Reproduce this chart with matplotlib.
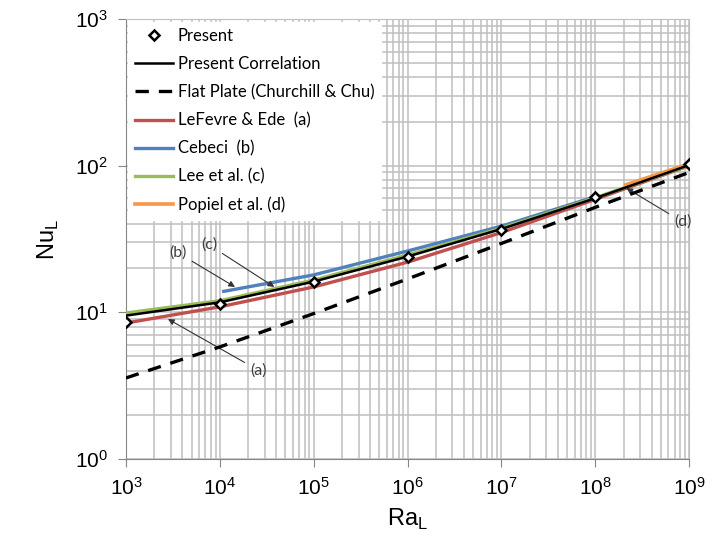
import matplotlib.pyplot as plt
import numpy as np
from matplotlib.ticker import FixedLocator, LogLocator, NullFormatter

# values
ra_present = [1e3, 1e4, 1e5, 1e6, 1e7, 1e8, 1e9]
nu_present = [8.6, 11.4, 16.1, 23.8, 36.4, 61.0, 102.6]

ra_dec = [1e3, 1e4, 1e5, 1e6, 1e7, 1e8, 1e9]
nu_corr = [9.5, 11.7, 16.2, 24.0, 37.0, 60.0, 101.0]
nu_flat = [3.57, 5.81, 9.81, 16.9, 29.5, 52.0, 90.0]
nu_lefevre = [8.45, 10.9, 14.9, 22.0, 35.0, 59.0, 100.0]
nu_lee = [9.9, 12.0, 16.6, 24.6, 37.5, 60.5, 100.5]

ra_cebeci = [1.1e4, 1e5, 1e6, 1e7, 1e8]
nu_cebeci = [13.9, 18.0, 26.2, 38.7, 61.5]

ra_popiel = [2.1e8, 1e9]
nu_popiel = [74.0, 103.0]

x_ticks = [1e3, 1e4, 1e5, 1e6, 1e7, 1e8, 1e9]
y_ticks = [1, 10, 100, 1000]

RED = "#C0504D"
BLUE = "#4F81BD"
GREEN = "#9BBB59"
ORANGE = "#F79646"

fig = plt.figure(figsize=(7.24, 5.43), dpi=100)
ax = fig.add_axes((0.174, 0.1547, 0.778, 0.8103))
ax.set_xscale("log")
ax.set_yscale("log")

ax.plot(ra_dec, nu_lefevre, color=RED, lw=2.4, label="LeFevre & Ede  (a)", zorder=3)
ax.plot(ra_cebeci, nu_cebeci, color=BLUE, lw=2.4, label="Cebeci  (b)", zorder=3)
ax.plot(ra_dec, nu_lee, color=GREEN, lw=2.4, label="Lee et al. (c)", zorder=3)
ax.plot(ra_popiel, nu_popiel, color=ORANGE, lw=2.6, label="Popiel et al. (d)", zorder=4)
ax.plot(ra_dec, nu_corr, color="black", lw=1.8, label="Present Correlation", zorder=5)
ax.plot(ra_dec, nu_flat, color="black", lw=2.4, ls=(0, (4, 3)),
        label="Flat Plate (Churchill & Chu)", zorder=5)
ax.plot(ra_present, nu_present, ls="none", marker="D", ms=5.5, mfc="white",
        mec="black", mew=1.8, label="Present", zorder=6)

ax.set_xlim(1e3, 1e9)
ax.set_ylim(1, 1e3)

ax.xaxis.set_major_locator(FixedLocator(x_ticks))
ax.yaxis.set_major_locator(FixedLocator(y_ticks))
ax.xaxis.set_minor_locator(LogLocator(base=10, subs=np.arange(2, 10), numticks=20))
ax.yaxis.set_minor_locator(LogLocator(base=10, subs=np.arange(2, 10), numticks=20))
ax.xaxis.set_minor_formatter(NullFormatter())
ax.yaxis.set_minor_formatter(NullFormatter())

ax.grid(True, which="both", color="#BFBFBF", lw=1.1)
ax.set_axisbelow(True)
for s in ax.spines.values():
    s.set_color("#BFBFBF")
ax.spines["left"].set_color("#868686")
ax.spines["bottom"].set_color("#868686")
ax.tick_params(which="major", direction="out", length=6, color="#868686",
               labelsize=15, pad=7)
ax.tick_params(which="minor", length=0)
for lab in ax.get_xticklabels() + ax.get_yticklabels():
    lab.set_family("Liberation Sans")

ax.set_xlabel("Ra$_\\mathregular{L}$", fontsize=17, family="Liberation Sans", labelpad=6)
ax.set_ylabel("Nu$_\\mathregular{L}$", fontsize=17, family="Liberation Sans", labelpad=10)

aprops = dict(arrowstyle="-|>", color="#333333", lw=0.8, mutation_scale=9,
              shrinkA=2, shrinkB=0)
afont = dict(fontsize=11.5, color="#404040", family="Lato", ha="center", va="center")
ax.annotate("(a)", xy=(2.8e3, 9.0), xytext=(2.55e4, 4.04), arrowprops=aprops, **afont)
ax.annotate("(b)", xy=(1.45e4, 14.9), xytext=(3.6e3, 25.4), arrowprops=aprops, **afont)
ax.annotate("(c)", xy=(3.8e4, 14.9), xytext=(7.7e3, 28.8), arrowprops=aprops, **afont)
ax.annotate("(d)", xy=(2.14e8, 70.3), xytext=(8.5e8, 41.3), arrowprops=aprops, **afont)

handles, labels = ax.get_legend_handles_labels()
order = ["Present", "Present Correlation", "Flat Plate (Churchill & Chu)",
         "LeFevre & Ede  (a)", "Cebeci  (b)", "Lee et al. (c)", "Popiel et al. (d)"]
hmap = dict(zip(labels, handles))
leg = ax.legend([hmap[k] for k in order], order, loc="upper left",
                bbox_to_anchor=(0.0, 1.0), frameon=True, fancybox=False,
                framealpha=1.0, edgecolor="white", facecolor="white",
                prop={"family": "Lato", "size": 12}, handlelength=2.3,
                handletextpad=0.25, labelspacing=0.72, borderaxespad=0.15,
                borderpad=0.4)
leg.set_zorder(10)

fig.savefig("out.png", dpi=100)
